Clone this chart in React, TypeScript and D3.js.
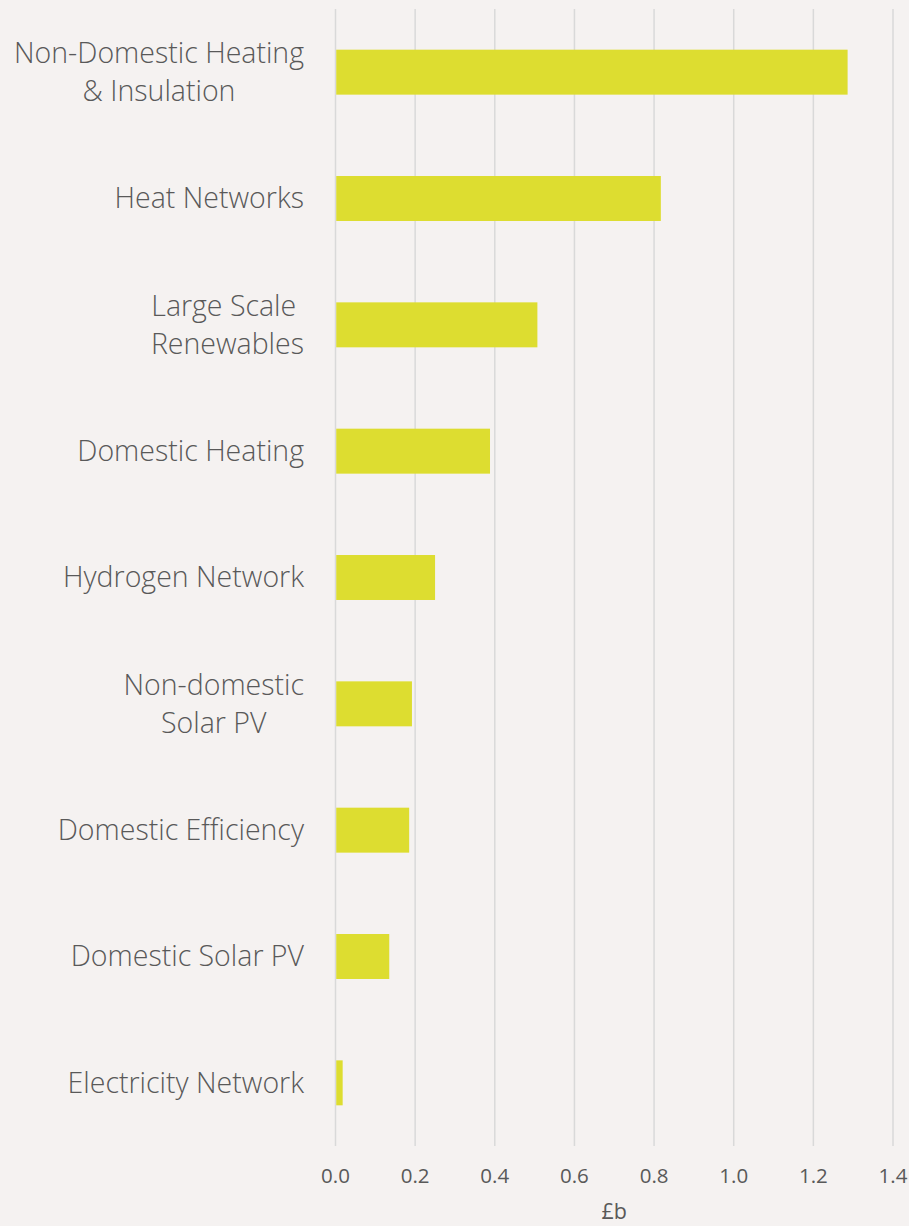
import React, { useEffect, useRef } from "react";
import * as d3 from "d3";

const categories: string[][] = [
  ["Non-Domestic Heating", "& Insulation"],
  ["Heat Networks"],
  ["Large Scale ", "Renewables"],
  ["Domestic Heating"],
  ["Hydrogen Network"],
  ["Non-domestic", "Solar PV"],
  ["Domestic Efficiency"],
  ["Domestic Solar PV"],
  ["Electricity Network"],
];
const values: number[] = [1.286, 0.817, 0.507, 0.388, 0.25, 0.192, 0.185, 0.135, 0.018];
const xTicks: number[] = [0, 0.2, 0.4, 0.6, 0.8, 1.0, 1.2, 1.4];
const xAxisTitle = "£b";

const W = 909;
const H = 1226;
const BG = "#F5F2F1";
const BAR = "#DDDD30";
const GRID = "#D9D9D9";
const TEXT = "#595959";

export default function App() {
  const ref = useRef<SVGSVGElement | null>(null);

  useEffect(() => {
    document.body.style.margin = "0";
    const svg = d3.select(ref.current);
    svg.selectAll("*").remove();

    const x = d3.scaleLinear().domain([0, 1.4]).range([335.5, 893]);
    const keys = categories.map((_, i) => String(i));
    const y = d3.scaleBand<string>().domain(keys).range([9, 1146]).paddingInner(0.644).paddingOuter(0.322);

    svg.append("rect").attr("width", W).attr("height", H).attr("fill", BG);

    svg.append("g")
      .selectAll("line")
      .data(xTicks)
      .join("line")
      .attr("x1", (d) => x(d))
      .attr("x2", (d) => x(d))
      .attr("y1", 9)
      .attr("y2", 1146)
      .attr("stroke", GRID)
      .attr("stroke-width", 1.5);

    svg.append("g")
      .selectAll("rect")
      .data(values)
      .join("rect")
      .attr("x", x(0) + 0.75)
      .attr("y", (_, i) => y(String(i))!)
      .attr("width", (d) => x(d) - x(0) - 0.75)
      .attr("height", y.bandwidth())
      .attr("fill", BAR);

    // tick labels
    svg.append("g")
      .selectAll("text")
      .data(xTicks)
      .join("text")
      .attr("x", (d) => x(d))
      .attr("y", 1183)
      .attr("text-anchor", "middle")
      .attr("font-family", "'Open Sans', sans-serif")
      .attr("font-size", 20.5)
      .attr("fill", TEXT)
      .text((d) => d3.format(".1f")(d));

    svg.append("text")
      .attr("x", (x(0) + x(1.4)) / 2)
      .attr("y", 1219)
      .attr("text-anchor", "middle")
      .attr("font-family", "'Open Sans', sans-serif")
      .attr("font-size", 21.5)
      .attr("fill", TEXT)
      .text(xAxisTitle);

    // category labels: block right-aligned at 304, lines centred within block
    const lineH = 38;
    const labelRight = 304;
    categories.forEach((lines, i) => {
      const cy = y(String(i))! + y.bandwidth() / 2;
      const g = svg.append("g");
      const texts = lines.map((ln, j) =>
        g.append("text")
          .attr("y", cy + (j - (lines.length - 1) / 2) * lineH)
          .attr("dy", "0.35em")
          .attr("font-family", "'Open Sans', sans-serif")
          .attr("font-weight", 300)
          .attr("font-size", 28.5)
          .attr("fill", TEXT)
          .style("white-space", "pre")
          .text(ln)
      );
      const widths = texts.map((t) => (t.node() as SVGTextElement).getComputedTextLength());
      const maxW = Math.max(...widths);
      texts.forEach((t) => t.attr("text-anchor", "middle").attr("x", labelRight - maxW / 2));
    });
  }, []);

  return <svg ref={ref} width={W} height={H} style={{ display: "block" }} />;
}
